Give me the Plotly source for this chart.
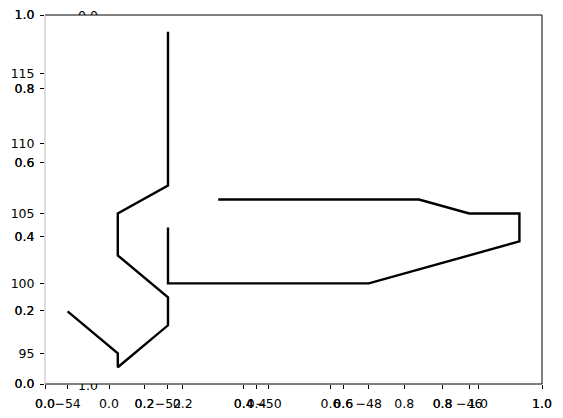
import plotly.graph_objects as go

# ---------------- data ----------------
line1_lon = [-54, -53, -53, -52, -52, -53, -53, -52, -52]
line1_lat = [98, 95, 94, 97, 99, 102, 105, 107, 118]
line2_lon = [-52, -52, -48, -45, -45, -46, -47, -51]
line2_lat = [104, 100, 100, 103, 105, 105, 106, 106]

unit_ticks = [0.0, 0.2, 0.4, 0.6, 0.8, 1.0]
unit_ticktext = ["0.0", "0.2", "0.4", "0.6", "0.8", "1.0"]
lon_ticks = [-54, -52, -50, -48, -46]
lon_ticktext = ["\u221254", "\u221252", "\u221250", "\u221248", "\u221246"]
lat_ticks = [95, 100, 105, 110, 115]
lat_ticktext = ["95", "100", "105", "110", "115"]
inset_ylabels = ["0.0", "1.0"]

# ---------------- geometry ----------------
W, H = 563, 418
L, R, T, B = 45, 542, 15, 384


def fx(p):
    return p / W


def fy(p):
    return 1 - p / H


def padded(vals, frac=0.05):
    lo, hi = min(vals), max(vals)
    s = (hi - lo) * frac
    return [lo - s, hi + s]


lon_range = padded(line1_lon + line2_lon)
lat_range = padded(line1_lat + line2_lat)

side = B - T
cx = (L + R) / 2
sq_l, sq_r = cx - side / 2, cx + side / 2

font = dict(family="DejaVu Sans", size=12.5, color="black")
common = dict(ticks="outside", ticklen=4, tickwidth=1, tickcolor="black",
              showgrid=False, zeroline=False, showline=False, automargin=False,
              tickfont=font, fixedrange=True)
xcommon = dict(common, ticklabelstandoff=4)
ycommon = dict(common, ticklabelstandoff=3)
hidden = dict(visible=False, automargin=False, fixedrange=True)

fig = go.Figure()

# main data lines on the lon/lat axes
for xs, ys in ((line1_lon, line1_lat), (line2_lon, line2_lat)):
    fig.add_trace(go.Scatter(x=xs, y=ys, mode="lines",
                             line=dict(color="black", width=2.4),
                             xaxis="x2", yaxis="y2", showlegend=False, hoverinfo="skip"))
# placeholders to instantiate the other axis sets
fig.add_trace(go.Scatter(x=[], y=[], xaxis="x", yaxis="y", showlegend=False))
fig.add_trace(go.Scatter(x=[], y=[], xaxis="x3", yaxis="y3", showlegend=False))
fig.add_trace(go.Scatter(x=[], y=[], xaxis="x4", yaxis="y4", showlegend=False))

# partially hidden y labels of the square inset axes
fig.add_trace(go.Scatter(x=[0.76], y=[-0.1], mode="text", text=[inset_ylabels[0]],
                         textposition="middle left", textfont=font, cliponaxis=True,
                         xaxis="x5", yaxis="y5", showlegend=False, hoverinfo="skip"))
fig.add_trace(go.Scatter(x=[0.76], y=[0.93], mode="text", text=[inset_ylabels[1]],
                         textposition="middle left", textfont=font, cliponaxis=True,
                         xaxis="x6", yaxis="y6", showlegend=False, hoverinfo="skip"))

main_xd = [fx(L), fx(R)]
main_yd = [fy(B), fy(T)]

fig.update_layout(
    template="none",
    width=W, height=H,
    margin=dict(l=0, r=0, t=0, b=0, pad=0, autoexpand=False),
    paper_bgcolor="white", plot_bgcolor="rgba(0,0,0,0)",
    showlegend=False,
    xaxis=dict(domain=main_xd, range=[0, 1], anchor="y", side="bottom",
               tickvals=unit_ticks, ticktext=unit_ticktext, **xcommon),
    yaxis=dict(domain=main_yd, range=[0, 1], anchor="x", side="left",
               tickvals=unit_ticks, ticktext=unit_ticktext, **ycommon),
    xaxis4=dict(overlaying="x", range=[0, 1], anchor="y", side="bottom",
                tickvals=unit_ticks, ticktext=unit_ticktext, **xcommon),
    yaxis4=dict(overlaying="y", range=[0, 1], anchor="x", side="left",
                tickvals=unit_ticks, ticktext=unit_ticktext, **ycommon),
    xaxis2=dict(overlaying="x", range=lon_range, anchor="y", side="bottom",
                tickvals=lon_ticks, ticktext=lon_ticktext, **xcommon),
    yaxis2=dict(overlaying="y", range=lat_range, anchor="x", side="left",
                tickvals=lat_ticks, ticktext=lat_ticktext, **ycommon),
    xaxis3=dict(domain=[fx(sq_l), fx(sq_r)], range=[0, 1], anchor="y3", side="bottom",
                tickvals=unit_ticks, ticktext=unit_ticktext, **xcommon),
    yaxis3=dict(domain=main_yd, range=[1, 0], anchor="x3", **hidden),
    xaxis5=dict(domain=[fx(60), fx(110)], range=[0, 1], anchor="y5", **hidden),
    yaxis5=dict(domain=[fy(T), 1], range=[0, 1], anchor="x5", **hidden),
    xaxis6=dict(domain=[fx(60), fx(110)], range=[0, 1], anchor="y6", **hidden),
    yaxis6=dict(domain=[0, fy(B)], range=[0, 1], anchor="x6", **hidden),
    shapes=[
        dict(type="line", xref="paper", yref="paper", x0=fx(L), x1=fx(R), y0=fy(T), y1=fy(T),
             line=dict(color="black", width=1)),
        dict(type="line", xref="paper", yref="paper", x0=fx(L), x1=fx(R), y0=fy(B), y1=fy(B),
             line=dict(color="black", width=1)),
        dict(type="line", xref="paper", yref="paper", x0=fx(R), x1=fx(R), y0=fy(B), y1=fy(T),
             line=dict(color="black", width=1)),
        dict(type="line", xref="paper", yref="paper", x0=fx(L), x1=fx(L), y0=fy(B), y1=fy(T),
             line=dict(color="#bdbdbd", width=1)),
    ],
)

fig.write_html("out.html")
